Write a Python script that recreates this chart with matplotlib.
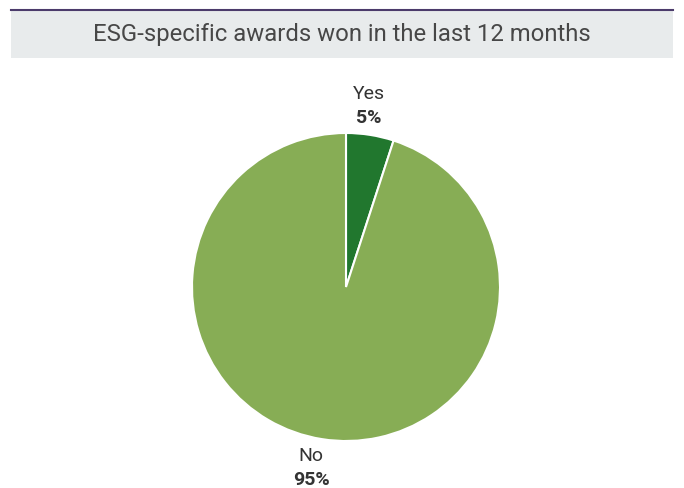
import matplotlib
matplotlib.use('Agg')
import matplotlib.pyplot as plt
from matplotlib.patches import Rectangle
import numpy as np

title = "ESG-specific awards won in the last 12 months"
labels = ["Yes", "No"]
shares = [5, 95]
colors = ["#21772e", "#87ad55"]

FONT = ["Liberation Sans Narrow", "Roboto", "DejaVu Sans"]

fig = plt.figure(figsize=(6.84, 4.88), dpi=100)
W, H = 684, 488

# title band with purple rule on top
band = fig.add_axes([0, 0, 1, 1])
band.set_xlim(0, W)
band.set_ylim(H, 0)
band.axis('off')
band.add_patch(Rectangle((11, 9), 662, 49, facecolor="#e8ebec", edgecolor="none"))
band.plot([11, 673], [9.5, 9.5], color="#4b3b6b", lw=1.5)
band.text(342, 34, title, ha='center', va='center', fontsize=17.2,
          color="#474747", family=FONT)

# pie
cx, cy, r = 346, 287, 154
ax = fig.add_axes([(cx - r) / W, (H - cy - r) / H, 2 * r / W, 2 * r / H])
wedges, _ = ax.pie(shares, colors=colors, startangle=90, counterclock=False,
                   wedgeprops=dict(edgecolor='white', linewidth=1.5))
ax.set_xlim(-1, 1)
ax.set_ylim(-1, 1)
ax.set_aspect('equal')

for w, name, val in zip(wedges, labels, shares):
    mid = np.deg2rad((w.theta1 + w.theta2) / 2)
    x, y = 1.19 * np.cos(mid) - 0.04, 1.19 * np.sin(mid)
    ax.text(x, y + 0.075, name, ha='center', va='center', fontsize=14,
            color="#333333", family=FONT, clip_on=False)
    ax.text(x, y - 0.075, f"{val}%", ha='center', va='center', fontsize=14,
            color="#333333", fontweight='bold', family=FONT, clip_on=False)

fig.savefig("out.png", dpi=100)
